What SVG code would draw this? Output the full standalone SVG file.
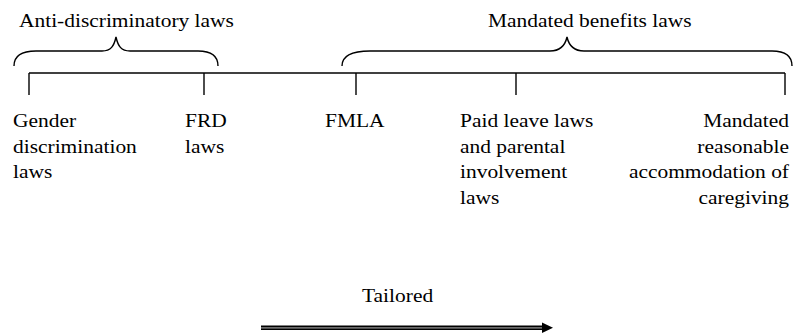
<svg xmlns="http://www.w3.org/2000/svg" width="800" height="335" viewBox="0 0 800 335">
<style>
.t text{font-size:19.5px;fill:#000}
.e{text-anchor:end}
.ln{stroke:#000;stroke-width:1.4;fill:none}
.br{stroke:#000;stroke-width:1.4;fill:none}
</style>
<rect width="800" height="335" fill="#fff"/>
<g id="connectors">
<line class="ln" x1="29" y1="73" x2="785" y2="73"/>
<line class="ln" x1="29" y1="73" x2="29" y2="95"/>
<line class="ln" x1="204" y1="73" x2="204" y2="95"/>
<line class="ln" x1="356" y1="73" x2="356" y2="95"/>
<line class="ln" x1="516" y1="73" x2="516" y2="95"/>
<line class="ln" x1="785" y1="73" x2="785" y2="95"/>
</g>
<g class="t" font-family="'Liberation Serif', 'DejaVu Serif', serif">
<g id="brace-anti">
<path class="br" d="M14,66 C14,56 22,51 36,51 L102,51 C111,51 114,46 116,37 C118,46 121,51 130,51 L198,51 C212,51 218,56 218,66"/>
<text transform="translate(19,27) scale(1.1,1)">Anti-discriminatory laws</text>
</g>
<g id="brace-mandated">
<path class="br" d="M342,66 C342,56 352,51 370,51 L550,51 C560,51 565,46 567,37 C569,46 574,51 584,51 L772,51 C786,51 792,56 792,66"/>
<text transform="translate(488,27) scale(1.1,1)">Mandated benefits laws</text>
</g>
<g id="node-gender">
<text transform="translate(13,127) scale(1.1,1)">Gender</text>
<text transform="translate(13,153) scale(1.1,1)">discrimination</text>
<text transform="translate(13,178) scale(1.1,1)">laws</text>
</g>
<g id="node-frd">
<text transform="translate(185,127) scale(1.1,1)">FRD</text>
<text transform="translate(185,153) scale(1.1,1)">laws</text>
</g>
<g id="node-fmla">
<text transform="translate(325,127) scale(1.1,1)">FMLA</text>
</g>
<g id="node-paid">
<text transform="translate(460,127) scale(1.1,1)">Paid leave laws</text>
<text transform="translate(460,153) scale(1.1,1)">and parental</text>
<text transform="translate(460,178) scale(1.1,1)">involvement</text>
<text transform="translate(460,204) scale(1.1,1)">laws</text>
</g>
<g id="node-mandated">
<text class="e" transform="translate(789,127) scale(1.1,1)">Mandated</text>
<text class="e" transform="translate(789,153) scale(1.1,1)">reasonable</text>
<text class="e" transform="translate(789,178) scale(1.1,1)">accommodation of</text>
<text class="e" transform="translate(789,204) scale(1.1,1)">caregiving</text>
</g>
<g id="tailored">
<text transform="translate(362,302) scale(1.1,1)">Tailored</text>
<rect x="261" y="325.5" width="282" height="4.5" fill="#000"/>
<rect x="261" y="327.3" width="281" height="1.2" fill="#999"/>
<polygon points="542,322.5 553,327.8 542,333" fill="#000"/>
</g>
</g>
</svg>
